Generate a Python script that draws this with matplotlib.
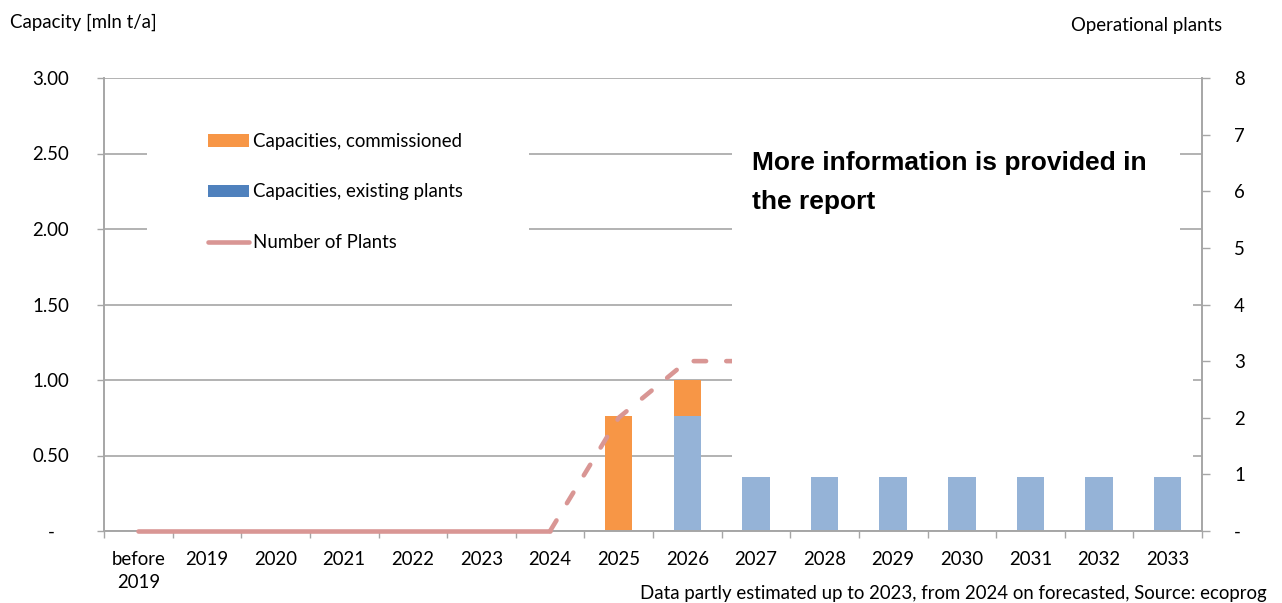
import matplotlib.pyplot as plt
from matplotlib.patches import Patch, Rectangle
from matplotlib.lines import Line2D
import numpy as np

plt.rcParams['font.family'] = ['Lato', 'DejaVu Sans']
plt.rcParams['font.size'] = 13.4

years = ['before\n2019', '2019', '2020', '2021', '2022', '2023', '2024', '2025',
         '2026', '2027', '2028', '2029', '2030', '2031', '2032', '2033']
existing = [0, 0, 0, 0, 0, 0, 0, 0, 0.76, 0.36, 0.36, 0.36, 0.36, 0.36, 0.36, 0.36]
commissioned = [0, 0, 0, 0, 0, 0, 0, 0.76, 0.24, 0, 0, 0, 0, 0, 0, 0]
plants = [0, 0, 0, 0, 0, 0, 0, 2, 3, 3, 3, 3, 3, 3, 3, 3]
last_actual = 6  # 2024: numbers after this are forecast

cap_ticks = [0, 0.5, 1.0, 1.5, 2.0, 2.5, 3.0]
cap_labels = ['-   ', '0.50', '1.00', '1.50', '2.00', '2.50', '3.00']
plant_ticks = list(range(9))
plant_labels = ['-'] + [str(i) for i in range(1, 9)]

orange = '#F79646'
blue_bar = '#95B3D7'
blue_leg = '#4F81BD'
pink = '#D99694'
grey = '#A6A6A6'

W, H = 1282, 603
fig = plt.figure(figsize=(W / 100, H / 100), dpi=100)
ax = fig.add_axes([104 / W, 1 - 531 / H, 1098 / W, 453 / H])
ax2 = ax.twinx()

x = np.arange(len(years))
ax.bar(x, existing, width=0.4, color=blue_bar, zorder=2)
ax.bar(x, commissioned, width=0.4, bottom=existing, color=orange, zorder=2)

ax.set_xlim(-0.5, len(years) - 0.5)
ax.set_ylim(0, 3.0)
ax.set_yticks(cap_ticks)
ax.set_yticklabels(cap_labels)
ax.yaxis.grid(True, color=grey, linewidth=1.2)
ax.set_axisbelow(True)
ax.tick_params(axis='y', length=5, width=1, color=grey, pad=20)
ax.set_xticks(x)
ax.set_xticklabels(years, linespacing=1.45)
ax.set_xticks(np.arange(len(years) + 1) - 0.5, minor=True)
ax.tick_params(axis='x', which='major', length=0, pad=14.5)
ax.tick_params(axis='x', which='minor', length=5, width=1, color=grey)

for a in (ax, ax2):
    a.spines['top'].set_visible(False)
    for s in ('left', 'right', 'bottom'):
        a.spines[s].set_color(grey)
        a.spines[s].set_linewidth(1.2)

ax2.set_ylim(0, 8)
ax2.set_yticks(plant_ticks)
ax2.set_yticklabels(plant_labels)
ax2.tick_params(axis='y', length=6, width=1, color=grey, pad=17)

ax2.plot(x[:last_actual + 1], plants[:last_actual + 1], color=pink, lw=3.3,
         solid_capstyle='round', clip_on=False, zorder=3)
ax2.plot(x[last_actual:], plants[last_actual:], color=pink, lw=3.3,
         dashes=(2.7, 4.4), dash_capstyle='round', clip_on=False, zorder=3)


def px_rect(x0, y0, x1, y1):
    # white cover box given in pixel coordinates from the top-left corner
    fig.patches.append(Rectangle((x0 / W, 1 - y1 / H), (x1 - x0) / W, (y1 - y0) / H,
                                 transform=fig.transFigure, facecolor='white',
                                 edgecolor='none', zorder=1))


px_rect(147, 110, 529, 265)
px_rect(732, 135, 1180, 242)
px_rect(732, 242, 1193, 463)

handles = [Patch(facecolor=orange), Patch(facecolor=blue_leg),
           Line2D([], [], color=pink, lw=3.3, solid_capstyle='round')]
labels = ['Capacities, commissioned', 'Capacities, existing plants', 'Number of Plants']
fig.legend(handles, labels, loc='upper left', bbox_to_anchor=(208 / W, 1 - 133 / H),
           frameon=False, borderpad=0, borderaxespad=0, handlelength=2.2,
           handleheight=0.65, handletextpad=0.22, labelspacing=1.8, fontsize=13.4)

fig.text(752 / W, 1 - 151 / H, 'More information is provided in\nthe report',
         family='Liberation Sans', weight='bold', fontsize=19, va='top',
         linespacing=1.78, zorder=3)

fig.text(10 / W, 1 - 22 / H, 'Capacity [mln t/a]', va='center')
fig.text(1222 / W, 1 - 26 / H, 'Operational plants', va='center', ha='right')
fig.text(1267 / W, 1 - 593 / H,
         'Data partly estimated up to 2023, from 2024 on forecasted, Source: ecoprog',
         va='center', ha='right')

fig.savefig('out.png', dpi=100)
